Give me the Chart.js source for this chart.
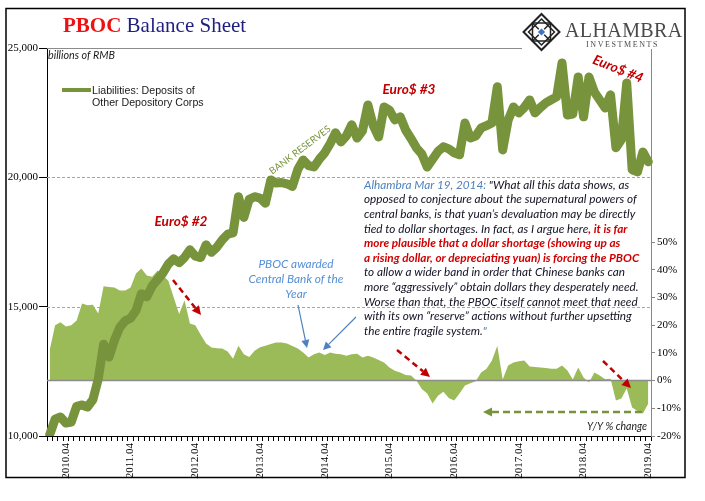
<!DOCTYPE html>
<html>
<head>
<meta charset="utf-8">
<script src="https://cdn.jsdelivr.net/npm/chart.js@4.4.0/dist/chart.umd.min.js"></script>
<style>
html, body { margin: 0; padding: 0; background: #fff; }
#wrap { width: 705px; height: 501px; position: relative; }
</style>
</head>
<body>
<div id="wrap"><canvas id="c"></canvas></div>
<script>
// monthly categories 2010.01 .. 2019.04
const months = [];
for (let yr = 2010; yr <= 2019; yr++) {
    for (let m = 1; m <= 12; m++) {
        if (months.length < 112) months.push(yr + '.' + String(m).padStart(2, '0'));
    }
}
const tickLabels = ['2010.04','2011.04','2012.04','2013.04','2014.04','2015.04','2016.04','2017.04','2018.04','2019.04'];

// billions of RMB, left axis
const reserves = [
    10050, 10650, 10735, 10500, 10540, 11150, 11200, 11120, 11400, 12200,
    13550, 13050, 13700, 14200, 14450, 14550, 14850, 15500, 15380, 15800,
    16050, 16300, 16650, 16850, 16700, 16900, 17200, 16950, 16900, 17390,
    17100, 17300, 17580, 17800, 17850, 19250, 18450, 19150, 19250, 19200,
    19000, 19900, 19780, 19800, 19750, 19650, 20300, 20670, 20450, 20400,
    20700, 20950, 21300, 21720, 21370, 21600, 22030, 21520, 21800, 22800,
    22000, 21560, 22720, 22600, 22220, 22340, 21830, 21500, 21140, 20900,
    20400, 20700, 21000, 21180, 21100, 20950, 20870, 22100, 21520, 21600,
    21910, 22000, 22100, 23500, 21060, 22200, 22720, 22490, 22700, 22990,
    22490, 22700, 22880, 23000, 23110, 24420, 22410, 22450, 23880, 22340,
    23880, 23300, 22990, 22680, 23190, 21140, 21450, 23650, 20290, 20210,
    20980, 20600
];

// Y/Y % change, right axis
const yoyChange = [
    11, 20, 21, 19.5, 20, 21.7, 27.8, 27.2, 27.4, 24.2,
    34, 33.8, 33.6, 32.5, 32.5, 33.6, 38.6, 40.4, 37.9, 37.5,
    39.7, 37.9, 36, 30, 24, 29, 20.6, 20, 16.5, 13.4,
    11.9, 11.7, 11.6, 10.5, 7.9, 12.6, 9.5, 8.5, 10.8, 12,
    12.6, 13.2, 13.7, 13.7, 13.4, 12.5, 11.6, 10.1, 8.3, 9.5,
    10.1, 9.2, 10.1, 9.7, 9.5, 9.0, 9.5, 9.7, 8.3, 9.0,
    8.3, 7.4, 6.5, 4.7, 3.5, 2.9, 2.0, 1.8, 0, -3,
    -4.7, -8.3, -5.5, -4, -6.3, -7.2, -4.7, -1.8, -1.0, -0.2,
    2.9, 4.3, 7.2, 12.6, 0.4, 5.4, 6.5, 7.0, 7.2, 5.1,
    4.9, 4.7, 4.5, 4.3, 4.3, 5.4, 3.6, 0.4, 4.7, 1.1,
    -0.7, 2.9, 1.8, 0.5, 0.7, -7.2, -6.5, -2.9, -9.7, -11,
    -11.9, -8.3
];

const dashedLevels = [15000, 20000];

const LINE_GREEN = '#77933C';
const AREA_GREEN = '#9BBB59';
const RED = '#C00000';
const BLUE = '#4F81BD';
const SANS = 'Lato, "Open Sans", sans-serif';

const quoteLines = [
    [['Alhambra Mar 19, 2014:', 'blue'], [' "What all this data shows, as', 'black']],
    [['opposed to conjecture about the supernatural powers of', 'black']],
    [['central banks, is that yuan\u2019s devaluation may be directly', 'black']],
    [['tied to dollar shortages. In fact, as I argue here', 'black'], [', it is far', 'red']],
    [['more plausible that a dollar shortage (showing up as', 'red']],
    [['a rising dollar, or depreciating yuan) is forcing the PBOC', 'red']],
    [['to allow a wider band in order that Chinese banks can', 'black']],
    [['more \u201caggressively\u201d obtain dollars they desperately need.', 'black']],
    [['Worse than that, the PBOC itself cannot meet that need', 'black']],
    [['with its own \u201creserve\u201d actions without further upsetting', 'black']],
    [['the entire fragile system.', 'black'], ['"', 'blue']]
];

function fitSize(ctx, text, style, family, width) {
    ctx.font = style + ' 20px ' + family;
    return 20 * width / ctx.measureText(text).width;
}

function arrow(ctx, x1, y1, x2, y2, color, width, dash, head) {
    const ang = Math.atan2(y2 - y1, x2 - x1);
    const bx = x2 - Math.cos(ang) * head, by = y2 - Math.sin(ang) * head;
    ctx.save();
    ctx.strokeStyle = color;
    ctx.fillStyle = color;
    ctx.lineWidth = width;
    ctx.setLineDash(dash);
    ctx.beginPath();
    ctx.moveTo(x1, y1);
    ctx.lineTo(bx, by);
    ctx.stroke();
    ctx.setLineDash([]);
    const hw = head * 0.5;
    ctx.beginPath();
    ctx.moveTo(x2, y2);
    ctx.lineTo(bx + Math.sin(ang) * hw, by - Math.cos(ang) * hw);
    ctx.lineTo(bx - Math.sin(ang) * hw, by + Math.cos(ang) * hw);
    ctx.closePath();
    ctx.fill();
    ctx.restore();
}

function drawLogo(ctx, cx, cy, r) {
    ctx.save();
    ctx.strokeStyle = '#222';
    ctx.lineWidth = 2;
    ctx.beginPath();
    ctx.moveTo(cx, cy - r); ctx.lineTo(cx + r, cy); ctx.lineTo(cx, cy + r); ctx.lineTo(cx - r, cy);
    ctx.closePath();
    ctx.stroke();
    ctx.lineWidth = 1.5;
    const s = r * 0.5;
    ctx.strokeRect(cx - s, cy - s, s * 2, s * 2);
    const d = r * 0.72;
    ctx.beginPath();
    ctx.moveTo(cx, cy - d); ctx.lineTo(cx + d, cy); ctx.lineTo(cx, cy + d); ctx.lineTo(cx - d, cy);
    ctx.closePath();
    ctx.stroke();
    ctx.beginPath();
    ctx.moveTo(cx - r * 0.5, cy - r * 0.5); ctx.lineTo(cx + r * 0.5, cy + r * 0.5);
    ctx.moveTo(cx + r * 0.5, cy - r * 0.5); ctx.lineTo(cx - r * 0.5, cy + r * 0.5);
    ctx.stroke();
    ctx.fillStyle = '#fff';
    const b = r * 0.3;
    ctx.beginPath();
    ctx.moveTo(cx, cy - b); ctx.lineTo(cx + b, cy); ctx.lineTo(cx, cy + b); ctx.lineTo(cx - b, cy);
    ctx.closePath();
    ctx.fill();
    ctx.fillStyle = '#3D72C4';
    const c = r * 0.2;
    ctx.beginPath();
    ctx.moveTo(cx, cy - c); ctx.lineTo(cx + c, cy); ctx.lineTo(cx, cy + c); ctx.lineTo(cx - c, cy);
    ctx.closePath();
    ctx.fill();
    ctx.restore();
}

const decor = {
    id: 'decor',
    afterDatasetDraw(chart, args) {
        if (args.index !== 1) return;
        const { ctx, chartArea: a, scales } = chart;
        ctx.save();
        ctx.strokeStyle = '#a6a6a6';
        ctx.lineWidth = 1;
        ctx.setLineDash([3, 2]);
        dashedLevels.forEach(v => {
            const y = Math.round(scales.y.getPixelForValue(v)) + 0.5;
            ctx.beginPath(); ctx.moveTo(a.left, y); ctx.lineTo(a.right, y); ctx.stroke();
        });
        ctx.setLineDash([]);
        ctx.strokeStyle = '#8c8c8c';
        ctx.lineWidth = 1.5;
        const y0 = scales.y1.getPixelForValue(0);
        ctx.beginPath(); ctx.moveTo(a.left, y0); ctx.lineTo(a.right, y0); ctx.stroke();
        ctx.restore();
    },
    afterDraw(chart) {
        const { ctx, chartArea: a, scales } = chart;
        ctx.save();
        // top rule
        ctx.strokeStyle = '#8c8c8c';
        ctx.lineWidth = 1;
        const yt = Math.round(scales.y.getPixelForValue(25000)) + 0.5;
        ctx.beginPath(); ctx.moveTo(a.left, yt); ctx.lineTo(a.right, yt); ctx.stroke();

        // logo block
        ctx.fillStyle = '#fff';
        ctx.fillRect(522, 9, 162, 40);
        drawLogo(ctx, 541.5, 32, 18);
        ctx.fillStyle = '#4a4a4a';
        ctx.textBaseline = 'alphabetic';
        ctx.textAlign = 'left';
        ctx.font = '20px "Liberation Serif", serif';
        ctx.letterSpacing = '0.4px';
        ctx.fillText('ALHAMBRA', 565, 37);
        ctx.font = '8px "Liberation Serif", serif';
        ctx.letterSpacing = '1.6px';
        ctx.fillText('INVESTMENTS', 586, 47);
        ctx.letterSpacing = '0px';

        // frame
        ctx.strokeStyle = '#000';
        ctx.lineWidth = 1.5;
        ctx.strokeRect(6, 8.5, 679, 469);

        // title
        ctx.font = 'bold 21px "Liberation Serif", serif';
        ctx.fillStyle = '#EE1111';
        ctx.fillText('PBOC', 63, 32);
        const pw = ctx.measureText('PBOC ').width;
        ctx.font = '21px "Liberation Serif", serif';
        ctx.fillStyle = '#1F1F80';
        ctx.fillText('Balance Sheet', 63 + pw, 32);

        // units
        let fs = fitSize(ctx, 'billions of RMB', 'italic', SANS, 67);
        ctx.font = 'italic ' + fs + 'px ' + SANS;
        ctx.fillStyle = '#1a1a1a';
        ctx.fillText('billions of RMB', 48, 59);

        // legend
        ctx.strokeStyle = LINE_GREEN;
        ctx.lineWidth = 4;
        ctx.beginPath(); ctx.moveTo(62, 90); ctx.lineTo(91, 90); ctx.stroke();
        fs = fitSize(ctx, 'Liabilities: Deposits of', '', '"Liberation Sans", Arial', 103);
        ctx.font = fs + 'px "Liberation Sans", Arial';
        ctx.fillStyle = '#1a1a1a';
        ctx.fillText('Liabilities: Deposits of', 92, 94);
        ctx.fillText('Other Depository Corps', 92, 106);

        // Euro$ labels
        fs = fitSize(ctx, 'Euro$ #2', 'bold italic', SANS, 53);
        ctx.font = 'bold italic ' + fs + 'px ' + SANS;
        ctx.fillStyle = RED;
        ctx.textAlign = 'center';
        ctx.textBaseline = 'middle';
        ctx.fillText('Euro$ #2', 181, 222);
        ctx.fillText('Euro$ #3', 409, 90);
        ctx.save();
        ctx.translate(618, 69);
        ctx.rotate(22 * Math.PI / 180);
        ctx.fillText('Euro$ #4', 0, 0);
        ctx.restore();

        // bank reserves
        fs = fitSize(ctx, 'BANK RESERVES', '', SANS, 74);
        ctx.font = fs + 'px ' + SANS;
        ctx.fillStyle = LINE_GREEN;
        ctx.save();
        ctx.translate(300, 150);
        ctx.rotate(-37 * Math.PI / 180);
        ctx.fillText('BANK RESERVES', 0, 0);
        ctx.restore();

        // PBOC award note
        fs = fitSize(ctx, 'Central Bank of the', 'italic', SANS, 95);
        ctx.font = 'italic ' + fs + 'px ' + SANS;
        ctx.fillStyle = '#558ED5';
        ctx.fillText('PBOC awarded', 296, 264);
        ctx.fillText('Central Bank of the', 296, 279);
        ctx.fillText('Year', 296, 294);
        arrow(ctx, 298, 305, 307, 348, BLUE, 1.2, [], 8);
        arrow(ctx, 356, 317, 323, 350, BLUE, 1.2, [], 8);

        // quote
        const qs = fitSize(ctx, quoteLines[1][0][0], 'italic', SANS, 273);
        ctx.textAlign = 'left';
        quoteLines.forEach((line, i) => {
            let x = 364;
            const y = 185 + i * 14.6;
            line.forEach(([txt, kind]) => {
                ctx.font = (kind === 'red' ? 'bold italic ' : 'italic ') + qs + 'px ' + SANS;
                ctx.fillStyle = kind === 'red' ? '#D00000' : kind === 'blue' ? BLUE : '#111122';
                ctx.fillText(txt, x, y);
                x += ctx.measureText(txt).width;
            });
        });

        // red dashed arrows
        arrow(ctx, 173, 280, 201, 315, RED, 2.5, [6, 4], 9);
        arrow(ctx, 397, 350, 430, 377, RED, 2.5, [6, 4], 9);
        arrow(ctx, 603, 361, 631, 388, RED, 2.5, [6, 4], 9);

        // green dashed arrow
        arrow(ctx, 642, 412, 483, 412, LINE_GREEN, 2.5, [7, 4], 9);

        // y/y label
        fs = fitSize(ctx, 'Y/Y % change', 'italic', SANS, 60);
        ctx.font = 'italic ' + fs + 'px ' + SANS;
        ctx.fillStyle = '#1a1a1a';
        ctx.textAlign = 'right';
        ctx.textBaseline = 'alphabetic';
        ctx.fillText('Y/Y % change', 647, 430);
        ctx.restore();
    }
};

new Chart(document.getElementById('c'), {
    type: 'line',
    data: {
        labels: months,
        datasets: [
            {
                label: 'Liabilities: Deposits of Other Depository Corps',
                data: reserves,
                yAxisID: 'y',
                borderColor: LINE_GREEN,
                borderWidth: 9,
                borderJoinStyle: 'round',
                borderCapStyle: 'round',
                pointRadius: 0,
                tension: 0,
                fill: false
            },
            {
                label: 'Y/Y % change',
                data: yoyChange,
                yAxisID: 'y1',
                borderWidth: 0,
                backgroundColor: AREA_GREEN,
                pointRadius: 0,
                tension: 0,
                fill: 'origin'
            }
        ]
    },
    options: {
        responsive: true,
        maintainAspectRatio: false,
        animation: false,
        layout: { padding: { top: 48, left: 0, right: 0, bottom: 0 } },
        plugins: { legend: { display: false }, tooltip: { enabled: false } },
        scales: {
            x: {
                type: 'category',
                offset: true,
                grid: { offset: true, drawOnChartArea: false, tickLength: 5, tickColor: '#000' },
                border: { color: '#000' },
                ticks: {
                    autoSkip: false,
                    maxRotation: 90,
                    minRotation: 90,
                    padding: 2,
                    color: '#000',
                    font: { family: '"Liberation Serif", serif', size: 11 },
                    callback: (v, i) => tickLabels.includes(months[i]) ? months[i] : ''
                },
                afterFit: s => { s.height = 65; }
            },
            y: {
                position: 'left',
                min: 10000,
                max: 25000,
                grid: { drawOnChartArea: false, tickLength: 8, tickColor: '#000' },
                border: { color: '#000' },
                ticks: {
                    stepSize: 5000,
                    padding: 1,
                    color: '#000',
                    font: { family: '"Liberation Serif", serif', size: 11 },
                    callback: v => v.toLocaleString('en-US')
                },
                afterFit: s => { s.width = 47; }
            },
            y1: {
                position: 'right',
                min: -20,
                max: 120,
                grid: {
                    drawOnChartArea: false,
                    tickLength: 4,
                    tickColor: c => (c.tick && c.tick.value <= 50) ? '#888' : 'rgba(0,0,0,0)'
                },
                border: { color: '#888' },
                ticks: {
                    stepSize: 10,
                    padding: 2,
                    color: '#000',
                    font: { family: '"Liberation Serif", serif', size: 11 },
                    callback: v => v <= 50 ? v + '%' : ''
                },
                afterFit: s => { s.width = 54; }
            }
        }
    },
    plugins: [decor]
});
</script>
</body>
</html>
